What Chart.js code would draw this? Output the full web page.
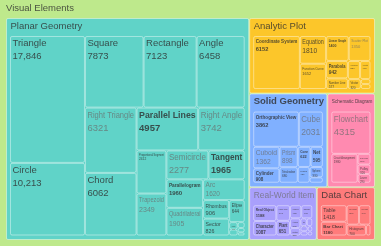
<!DOCTYPE html>
<html>
<head>
<meta charset="utf-8">
<script src="https://cdn.jsdelivr.net/npm/chart.js@4.4.1/dist/chart.umd.min.js"></script>
<style>
    html, body { margin: 0; padding: 0; background: #bee98c; }
    #wrap { width: 381px; height: 246px; }
</style>
</head>
<body>
<div id="wrap"><canvas id="treemap" width="381" height="246"></canvas></div>
<script>
// ===== data =====
const rootName = 'Visual Elements';
const groupNames = ['Planar Geometry', 'Analytic Plot', 'Solid Geometry', 'Schematic Diagram', 'Real-World Item', 'Data Chart'];

const planarNames = ['Triangle', 'Circle', 'Square', 'Rectangle', 'Angle', 'Right Triangle', 'Chord', 'Parallel Lines',
    'Right Angle', 'Proportional Segment', 'Trapezoid', 'Semicircle', 'Tangent', 'Parallelogram', 'Quadrilateral',
    'Arc', 'Rhombus', 'Sector', 'Ellipse', 'Hexagon', 'Pentagon', 'Octagon', 'Kite', 'Polygon'];
const planarValues = [17846, 10213, 7873, 7123, 6458, 6321, 6062, 4957, 3742, 2412, 2349, 2277, 1965, 1960, 1905,
    1620, 906, 826, 644, 118, 96, 77, 58, 41];

const analyticNames = ['Coordinate System', 'Equation', 'Function Curve', 'Linear Graph', 'Scatter Plot', 'Parabola',
    'Number Line', 'Hyperbola', 'Asymptote', 'Vector', 'Axis', 'Origin'];
const analyticValues = [6152, 1810, 1652, 1400, 1350, 942, 577, 550, 470, 320, 120, 120];

const solidNames = ['Orthographic View', 'Cube', 'Cuboid', 'Cylinder', 'Prism', 'Tetrahedron', 'Cone', 'Net',
    'Pyramid', 'Sphere', 'Frustum'];
const solidValues = [3862, 2031, 1362, 908, 898, 680, 622, 595, 450, 330, 170];

const schematicNames = ['Flowchart', 'Circuit Arrangement', 'Gear Train', 'Pulley', 'Lever'];
const schematicValues = [4315, 1980, 360, 320, 290];

const realNames = ['Real Object', 'Character', 'Figurine Model', 'Plant', 'Vehicle', 'Building', 'Animal',
    'Furniture', 'Tool', 'Fruit', 'Toy', 'Coin', 'Cup', 'Ball'];
const realValues = [1188, 1087, 690, 651, 480, 470, 330, 250, 160, 140, 120, 100, 80, 60];

const dataChartNames = ['Table', 'Bar Chart', 'Pie Chart', 'Line Chart', 'Histogram', 'Scatter Chart'];
const dataChartValues = [1418, 1180, 800, 740, 700, 160];

// ===== styles =====
const rootColor = '#bee98c';
const groupColors = ['#60d3c8', '#fcc62a', '#80b0ff', '#ff8ab0', '#a9a0fc', '#ff7b7b'];
const lightLabels = new Set(['Right Triangle', 'Right Angle', 'Semicircle', 'Trapezoid', 'Quadrilateral', 'Arc',
    'Cube', 'Cuboid', 'Prism', 'Flowchart', 'Real-World Item', 'Scatter Plot']);
const boldLabels = new Set(['Parallel Lines', 'Tangent', 'Parallelogram', 'Parabola', 'Linear Graph',
    'Orthographic View', 'Cone', 'Net', 'Cylinder', 'Solid Geometry', 'Bar Chart', 'Real Object', 'Character',
    'Plant', 'Coordinate System']);
const FONT = "'Liberation Sans', Arial, sans-serif";
const DARK = 'rgba(45, 45, 45, 0.8)';
const LIGHT = 'rgba(105, 105, 105, 0.7)';

const groups = [
    { names: planarNames, values: planarValues },
    { names: analyticNames, values: analyticValues },
    { names: solidNames, values: solidValues },
    { names: schematicNames, values: schematicValues },
    { names: realNames, values: realValues },
    { names: dataChartNames, values: dataChartValues }
];

const sum = (arr) => arr.reduce((a, b) => a + b, 0);

function worst(row, side) {
    const s = sum(row);
    const mx = Math.max(...row), mn = Math.min(...row);
    return Math.max(side * side * mx / (s * s), (s * s) / (side * side * mn));
}

// squarified layout, values assumed sorted descending
function squarify(values, rect) {
    const scale = rect.w * rect.h / sum(values);
    const areas = values.map(v => v * scale);
    const out = [];
    let r = { ...rect };
    let i = 0;
    while (i < areas.length) {
        const side = Math.min(r.w, r.h);
        let row = [areas[i]];
        let best = worst(row, side);
        let j = i + 1;
        while (j < areas.length) {
            const next = row.concat(areas[j]);
            const w = worst(next, side);
            if (w > best) break;
            row = next; best = w; j++;
        }
        const s = sum(row);
        if (r.w >= r.h) {
            const cw = s / r.h;
            let y = r.y;
            row.forEach(a => { const h = a / cw; out.push({ x: r.x, y, w: cw, h }); y += h; });
            r = { x: r.x + cw, y: r.y, w: r.w - cw, h: r.h };
        } else {
            const rh = s / r.w;
            let x = r.x;
            row.forEach(a => { const w = a / rh; out.push({ x, y: r.y, w, h: rh }); x += w; });
            r = { x: r.x, y: r.y + rh, w: r.w, h: r.h - rh };
        }
        i = j;
    }
    return out;
}

function fmt(v) {
    return v >= 10000 ? v.toLocaleString('en-US') : String(v);
}

function labelStyle(name) {
    return {
        weight: boldLabels.has(name) ? 'bold' : 'normal',
        color: lightLabels.has(name) ? LIGHT : DARK
    };
}

function fitSize(ctx, text, weight, w, h, maxSize) {
    ctx.font = `${weight} 10px ${FONT}`;
    const w10 = ctx.measureText(text).width / 10;
    return Math.max(2.5, Math.min(maxSize, (w - 5) / w10 * 1.25, h / 3.2));
}

function box(ctx, r, fill, inset) {
    ctx.beginPath();
    ctx.roundRect(r.x + inset, r.y + inset, Math.max(0, r.w - 2 * inset), Math.max(0, r.h - 2 * inset), 1.5);
    ctx.fillStyle = fill;
    ctx.fill();
    ctx.lineWidth = 1;
    ctx.strokeStyle = 'rgba(255, 255, 255, 0.42)';
    ctx.stroke();
}

const treemapPlugin = {
    id: 'treemap',
    afterDraw(chart) {
        const { ctx } = chart;
        const xs = chart.scales.x, ys = chart.scales.y;
        const left = xs.getPixelForValue(0), right = xs.getPixelForValue(1);
        const top = ys.getPixelForValue(1), bottom = ys.getPixelForValue(0);

        ctx.save();
        ctx.fillStyle = rootColor;
        ctx.fillRect(left, top, right - left, bottom - top);
        ctx.textBaseline = 'middle';
        ctx.fillStyle = DARK;
        ctx.font = `normal 9.5px ${FONT}`;
        ctx.fillText(rootName, left + 6, top + 8);

        const groupTotals = groups.map(g => sum(g.values));
        const groupRects = squarify(groupTotals, { x: left + 6, y: top + 18, w: right - left - 12, h: bottom - top - 24 });

        groupRects.forEach((gr, gi) => {
            const color = groupColors[gi];
            box(ctx, gr, color, 0.5);

            const title = groupNames[gi];
            const ts = labelStyle(title);
            const tSize = fitSize(ctx, title, ts.weight, gr.w, 40, 9.5);
            ctx.font = `${ts.weight} ${tSize}px ${FONT}`;
            ctx.fillStyle = ts.color;
            ctx.textBaseline = 'middle';
            ctx.fillText(title, gr.x + 4.5, gr.y + 8, gr.w - 7);

            const g = groups[gi];
            const content = { x: gr.x + 4, y: gr.y + 18, w: gr.w - 8.5, h: gr.h - 22.5 };
            const leafRects = squarify(g.values, content);
            leafRects.forEach((lr, li) => {
                box(ctx, lr, color, 0.5);
                if (lr.w < 6 || lr.h < 6) return;
                const name = g.names[li];
                const st = labelStyle(name);
                const size = fitSize(ctx, name, st.weight, lr.w, lr.h, 9.5);
                ctx.font = `${st.weight} ${size}px ${FONT}`;
                ctx.fillStyle = st.color;
                ctx.textBaseline = 'top';
                const mw = Math.max(2, lr.w - 5);
                ctx.fillText(name, lr.x + 2.5, lr.y + 3, mw);
                if (lr.h > size * 2.7) {
                    ctx.fillText(fmt(g.values[li]), lr.x + 2.5, lr.y + 3 + size * 1.35, mw);
                }
            });
        });
        ctx.restore();
    }
};

new Chart(document.getElementById('treemap'), {
    type: 'scatter',
    data: { datasets: [] },
    options: {
        responsive: false,
        animation: false,
        events: [],
        layout: { padding: 0 },
        plugins: {
            legend: { display: false },
            tooltip: { enabled: false }
        },
        scales: {
            x: { type: 'linear', min: 0, max: 1, display: false },
            y: { type: 'linear', min: 0, max: 1, display: false }
        }
    },
    plugins: [treemapPlugin]
});
</script>
</body>
</html>
